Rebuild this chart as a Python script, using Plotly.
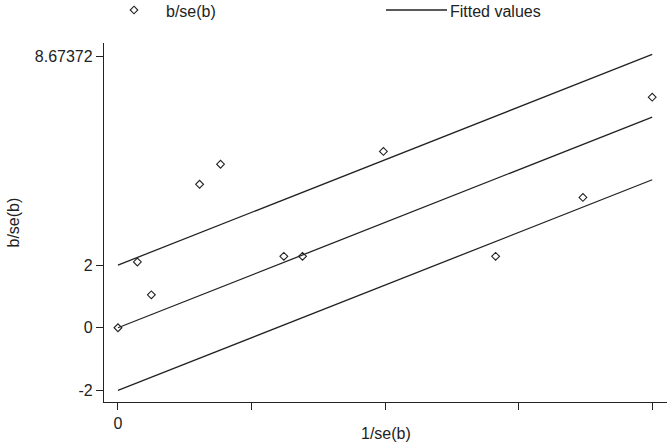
import numpy as np
import plotly.graph_objects as go

# Data (Galbraith plot)
inv_se = [0.0, 28.5, 49.0, 119.8, 150.6, 243.5, 270.9, 389.7, 554.4, 682.6, 784.286]
b_over_se = [0.0, 2.10, 1.05, 4.58, 5.22, 2.28, 2.28, 5.63, 2.28, 4.16, 7.36]

x_tickvals = [0, 196.0715, 392.143, 588.2145, 784.286]
x_ticktext = ["0", "", "", "", "784.286"]
y_tickvals = [-2, 0, 2, 8.67372]
y_ticktext = ["-2", "0", "2", "8.67372"]

x = np.array(inv_se)
y = np.array(b_over_se)
slope = float((x * y).sum() / (x * x).sum())  # regression through origin
fitted = slope * x

W, H = 670, 445
ML, MR, MT, MB = 104, 3, 43, 43
PW, PH = W - ML - MR, H - MT - MB

def pxx(p):
    return (p - ML) / PW

def pxy(p):
    return (H - MB - p) / PH

FONT = "Arial, Liberation Sans, sans-serif"
INK = "#222222"

fig = go.Figure()
for off in (2, 0, -2):
    fig.add_trace(go.Scatter(x=x, y=fitted + off, mode="lines",
                             line=dict(color=INK, width=1.3), showlegend=False,
                             hoverinfo="skip"))
fig.add_trace(go.Scatter(x=x, y=y, mode="markers",
                         marker=dict(symbol="diamond-open", size=6,
                                     color=INK, line=dict(width=1.1, color=INK)),
                         showlegend=False))

axis_common = dict(showgrid=False, zeroline=False, showline=True, linecolor=INK,
                   linewidth=1.3, ticks="outside", ticklen=7, tickwidth=1.3,
                   tickcolor=INK, tickfont=dict(family=FONT, size=16, color=INK),
                   automargin=False)

fig.update_layout(
    width=W, height=H,
    margin=dict(l=ML, r=MR, t=MT, b=MB),
    paper_bgcolor="white", plot_bgcolor="white",
    showlegend=False,
    xaxis=dict(range=[-20.5, 806], tickmode="array", tickvals=x_tickvals,
               ticktext=x_ticktext, **axis_common),
    yaxis=dict(range=[-2.37, 9.09], tickmode="array", tickvals=y_tickvals,
               ticktext=y_ticktext, **axis_common),
)

# Axis titles
fig.add_annotation(text="1/se(b)", xref="paper", yref="paper", x=0.5, y=pxy(433),
                   showarrow=False, xanchor="center", yanchor="middle",
                   font=dict(family=FONT, size=16, color=INK))
fig.add_annotation(text="b/se(b)", xref="paper", yref="paper", x=pxx(13), y=0.5,
                   showarrow=False, xanchor="center", yanchor="middle", textangle=-90,
                   font=dict(family=FONT, size=16, color=INK))

# Legend (top, outside plot area)
cx, cy, r = 134, 10, 3.8
path = "M {} {} L {} {} L {} {} L {} {} Z".format(
    pxx(cx), pxy(cy - r), pxx(cx + r), pxy(cy), pxx(cx), pxy(cy + r), pxx(cx - r), pxy(cy))
fig.add_shape(type="path", path=path, xref="paper", yref="paper",
              line=dict(color=INK, width=1.1))
fig.add_annotation(text="b/se(b)", xref="paper", yref="paper", x=pxx(164), y=pxy(11),
                   showarrow=False, xanchor="left", yanchor="middle",
                   font=dict(family=FONT, size=16, color=INK))
fig.add_shape(type="line", xref="paper", yref="paper", x0=pxx(386), x1=pxx(447),
              y0=pxy(10), y1=pxy(10), line=dict(color=INK, width=1.3))
fig.add_annotation(text="Fitted values", xref="paper", yref="paper", x=pxx(448), y=pxy(11),
                   showarrow=False, xanchor="left", yanchor="middle",
                   font=dict(family=FONT, size=16, color=INK))

fig.write_html("out.html", config={"displayModeBar": False},
               post_script="document.body.style.margin='0';document.body.style.overflow='hidden';")
